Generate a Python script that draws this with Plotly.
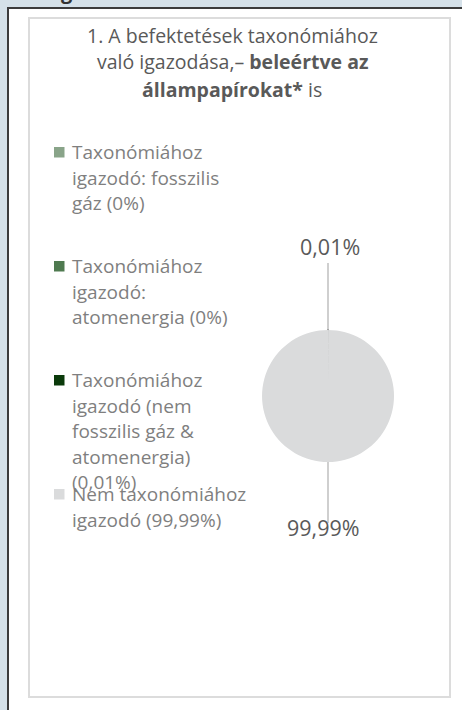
import plotly.graph_objects as go

W, H = 462, 710

# ---- data ----
categories = [
    "Taxonómiához igazodó: fosszilis gáz",
    "Taxonómiához igazodó: atomenergia",
    "Taxonómiához igazodó (nem fosszilis gáz & atomenergia)",
    "Nem taxonómiához igazodó",
]
values = [0.0, 0.0, 0.01, 99.99]
legend_text = [
    "Taxonómiához<br>igazodó: fosszilis<br>gáz (0%)",
    "Taxonómiához<br>igazodó:<br>atomenergia (0%)",
    "Taxonómiához<br>igazodó (nem<br>fosszilis gáz &<br>atomenergia)<br>(0,01%)",
    "Nem taxonómiához<br>igazodó (99,99%)",
]
colors = ["#89a489", "#4f7a50", "#0b3a0b", "#dadbdc"]
title_lines = [
    "1. A befektetések taxonómiához",
    "való igazodása,– <b>beleértve az</b>",
    "<b>állampapírokat*</b> is",
]


def fmt_pct(v):
    s = f"{v:.2f}".rstrip("0").rstrip(".")
    return s.replace(".", ",") + "%"


def px(x):
    return x / W


def py(y):
    return 1 - y / H


FONT = "Open Sans"

# pie geometry (pixels)
cx, cy, r = 328, 396, 66

fig = go.Figure()
fig.add_trace(go.Pie(
    labels=categories,
    values=values,
    sort=False,
    direction="clockwise",
    rotation=0,
    textinfo="none",
    hoverinfo="label+percent",
    showlegend=False,
    marker=dict(colors=colors,
                line=dict(color=["#0b3a0b", "#0b3a0b", "#333333", "#dadbdc"],
                          width=[0, 0, 2, 0])),
    domain=dict(x=[px(cx - r), px(cx + r)], y=[py(cy + r), py(cy - r)]),
))

shapes = []
annotations = []

# outer white panel
shapes.append(dict(type="rect", xref="paper", yref="paper",
                   x0=px(8), x1=1.1, y0=-0.1, y1=py(8),
                   fillcolor="white", line=dict(width=0, color="rgba(0,0,0,0)"),
                   layer="below"))
# dark left / top border of the panel
shapes.append(dict(type="line", xref="paper", yref="paper",
                   x0=px(8), x1=px(8), y0=-0.1, y1=py(7),
                   line=dict(color="#3c3c3c", width=2), layer="below"))
shapes.append(dict(type="line", xref="paper", yref="paper",
                   x0=px(7), x1=1.1, y0=py(8), y1=py(8),
                   line=dict(color="#3c3c3c", width=2), layer="below"))
# inner chart area border
shapes.append(dict(type="rect", xref="paper", yref="paper",
                   x0=px(29), x1=px(450), y0=py(697), y1=py(18),
                   fillcolor="white", line=dict(color="#dcdcdc", width=2),
                   layer="below"))

# cut heading glyph at the top
annotations.append(dict(text="<b>g</b>", x=px(67), y=py(-9), xref="paper", yref="paper",
                        showarrow=False, xanchor="center", yanchor="middle",
                        font=dict(family=FONT, size=20, color="#333333")))

# title
for j, line in enumerate(title_lines):
    annotations.append(dict(text=line, x=px(232), y=py(35 + j * 27),
                            xref="paper", yref="paper", showarrow=False,
                            xanchor="center", yanchor="middle",
                            font=dict(family=FONT, size=19.5, color="#595959")))

# legend (manual, Excel-like with fixed slots)
for i, txt in enumerate(legend_text):
    y0 = 152 + i * 114
    shapes.append(dict(type="rect", xref="paper", yref="paper",
                       x0=px(54), x1=px(64.5), y0=py(y0 + 5.5), y1=py(y0 - 5),
                       fillcolor=colors[i], line=dict(width=0)))
    for j, line in enumerate(txt.split("<br>")):
        annotations.append(dict(text=line, x=px(70), y=py(y0 + j * 25.6),
                                xref="paper", yref="paper", showarrow=False,
                                xanchor="left", yanchor="middle",
                                font=dict(family=FONT, size=19, color="#7f7f7f")))

# data labels with leader lines
small_label = fmt_pct(values[2])
big_label = fmt_pct(values[3])
shapes.append(dict(type="line", xref="paper", yref="paper",
                   x0=px(cx), x1=px(cx), y0=py(cy - r), y1=py(263),
                   line=dict(color="#bfbfbf", width=1.5)))
shapes.append(dict(type="line", xref="paper", yref="paper",
                   x0=px(cx), x1=px(cx), y0=py(cy + r), y1=py(523),
                   line=dict(color="#bfbfbf", width=1.5)))
annotations.append(dict(text=small_label, x=px(cx + 2), y=py(246), xref="paper", yref="paper",
                        showarrow=False, xanchor="center", yanchor="middle",
                        font=dict(family=FONT, size=21.5, color="#595959")))
annotations.append(dict(text=big_label, x=px(cx - 5), y=py(527), xref="paper", yref="paper",
                        showarrow=False, xanchor="center", yanchor="middle",
                        font=dict(family=FONT, size=21.5, color="#595959")))

fig.update_layout(
    width=W, height=H,
    margin=dict(l=0, r=0, t=0, b=0),
    paper_bgcolor="#d5e1e9",
    plot_bgcolor="white",
    shapes=shapes,
    annotations=annotations,
)

fig.write_html("out.html",
               config={"displayModeBar": False},
               post_script="document.body.style.margin='0';document.body.style.overflow='hidden';")
